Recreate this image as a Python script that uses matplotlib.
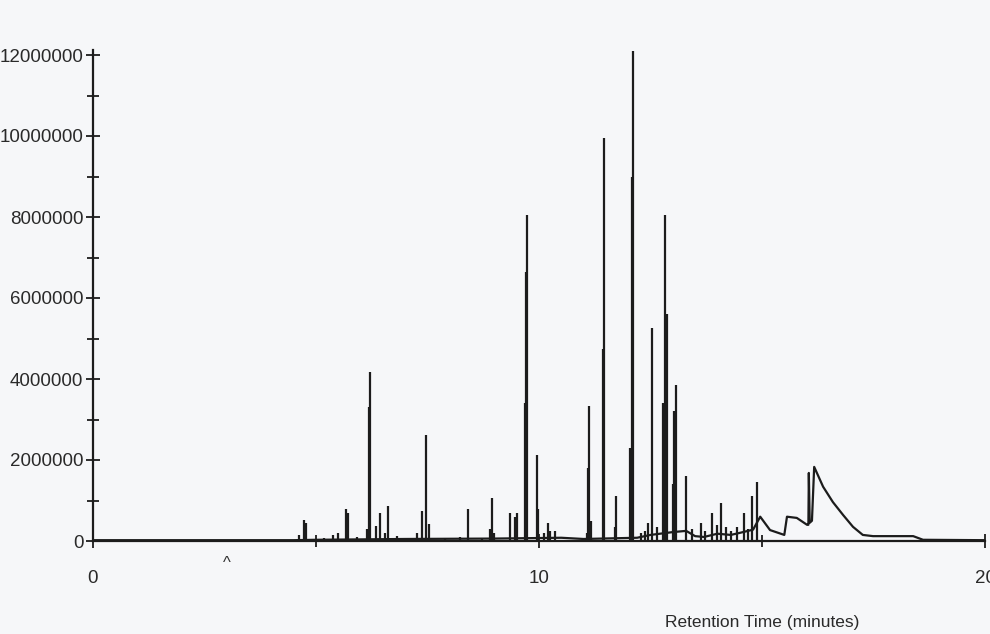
#!/usr/bin/python3
# GC chromatogram: abundance vs retention time
import numpy as np
import matplotlib
matplotlib.use('Agg')
import matplotlib.pyplot as plt
from matplotlib.ticker import MultipleLocator

plt.rcParams['font.family'] = ['Liberation Sans', 'DejaVu Sans']

# sharp peaks: retention time (min) and height (millions of counts)
peak_rt = [4.62, 4.73, 4.78, 5.18, 5.38, 5.49, 5.67, 5.72, 5.92, 6.14, 6.19, 6.21,
           6.35, 6.43, 6.55, 6.61, 6.82, 7.04, 7.26, 7.38, 7.47, 7.53, 7.89, 8.23,
           8.41, 8.72, 8.90, 8.95, 8.99, 9.35, 9.46, 9.51, 9.69, 9.71, 9.74, 9.96,
           9.98, 10.11, 10.20, 10.25, 10.36, 11.08, 11.10, 11.12, 11.17, 11.43, 11.46,
           11.70, 11.73, 12.04, 12.09, 12.11, 12.29, 12.38, 12.44, 12.53, 12.65, 12.78,
           12.83, 12.87, 13.00, 13.03, 13.07, 13.30, 13.43, 13.63, 13.72, 13.88, 13.99,
           14.08, 14.19, 14.30, 14.44, 14.60, 14.69, 14.78, 14.89]
peak_h = [0.15, 0.52, 0.45, 0.07, 0.15, 0.20, 0.80, 0.70, 0.10, 0.30, 3.30, 4.17,
          0.37, 0.68, 0.20, 0.87, 0.12, 0.08, 0.20, 0.74, 2.62, 0.42, 0.05, 0.10,
          0.80, 0.07, 0.30, 1.06, 0.20, 0.69, 0.60, 0.69, 3.40, 6.65, 8.05, 2.12,
          0.80, 0.20, 0.44, 0.25, 0.25, 0.20, 1.80, 3.33, 0.50, 4.75, 9.95,
          0.35, 1.10, 2.30, 9.00, 12.10, 0.20, 0.25, 0.45, 5.25, 0.35, 3.40,
          8.05, 5.60, 1.40, 3.20, 3.85, 1.60, 0.30, 0.44, 0.25, 0.69, 0.40,
          0.94, 0.35, 0.25, 0.35, 0.69, 0.30, 1.10, 1.46]

# baseline and broad late hump
base_t = [0, 4.5, 5.0, 7.0, 9.0, 10.5, 11.0, 12.2, 12.5, 13.0, 13.3, 13.5, 13.7, 14.0,
          14.3, 14.5, 14.8, 14.96, 15.18, 15.5, 15.56, 15.78, 16.01, 16.04, 16.05,
          16.07, 16.12, 16.17, 16.37, 16.59, 16.82, 17.04, 17.26, 17.49, 18.39, 18.61, 20]
base_v = [0.02, 0.02, 0.03, 0.05, 0.06, 0.08, 0.05, 0.08, 0.15, 0.22, 0.25, 0.12, 0.10,
          0.18, 0.15, 0.20, 0.28, 0.60, 0.27, 0.15, 0.60, 0.57, 0.40, 0.40, 1.68,
          0.45, 0.50, 1.83, 1.34, 0.96, 0.64, 0.35, 0.15, 0.12, 0.12, 0.03, 0.02]

scale = 1e6
bg = '#f6f7f9'
ink = '#1c1c1c'
txt = '#2a2a2a'

fig = plt.figure(figsize=(9.9, 6.34), dpi=100, facecolor=bg)
ax = fig.add_axes([93/990, 1 - 541/634, (985 - 93)/990, (541 - 50)/634])
ax.set_facecolor(bg)

ax.vlines(peak_rt, 0, np.array(peak_h) * scale, color=ink, lw=1.6)
ax.plot(base_t, np.array(base_v) * scale, color=ink, lw=1.6)

ax.set_xlim(0, 20)
ax.set_ylim(0, 12e6 * 491 / 486)

for s in ['top', 'right']:
    ax.spines[s].set_visible(False)
for s in ['left', 'bottom']:
    ax.spines[s].set_linewidth(1.6)
    ax.spines[s].set_color(ink)

ax.yaxis.set_minor_locator(MultipleLocator(1e6))
ax.xaxis.set_major_locator(MultipleLocator(10))
ax.xaxis.set_minor_locator(MultipleLocator(5))
yt = np.arange(0, 12e6 + 1, 2e6)
ax.set_yticks(yt)
ax.set_yticklabels([f'{int(v)}' for v in yt])
ax.tick_params(which='both', direction='inout', color=ink, width=1.3,
               labelsize=13.5, labelcolor=txt)
ax.tick_params(which='major', length=10)
ax.tick_params(which='minor', length=9)
ax.tick_params(axis='y', pad=2)
ax.tick_params(axis='x', pad=16)

ax.text(3, -0.03, '^', transform=ax.get_xaxis_transform(), ha='center', va='top',
        fontsize=12, color='#333333')
ax.text(15, -0.15, 'Retention Time (minutes)', transform=ax.get_xaxis_transform(),
        ha='center', va='top', fontsize=12.5, color=txt)

fig.savefig('out.png', dpi=100, facecolor=bg)
